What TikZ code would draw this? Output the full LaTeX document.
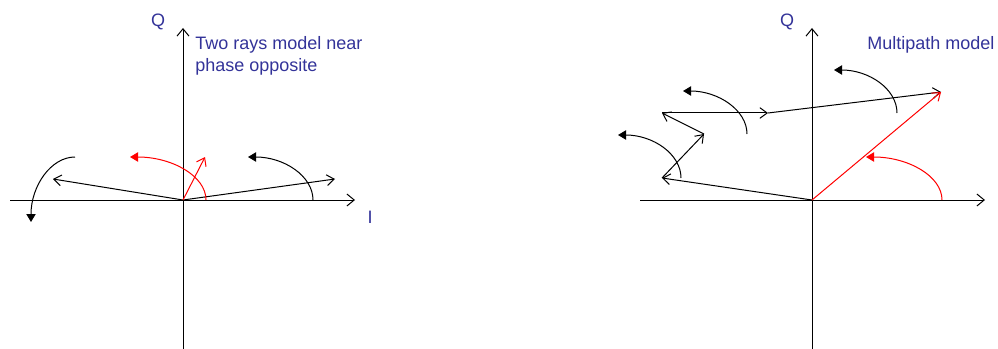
\documentclass[tikz,border=0pt]{standalone}
\usepackage{fontspec}
\setmainfont{Liberation Sans}
\usetikzlibrary{arrows.meta}
\definecolor{labelblue}{RGB}{51,51,153}

\begin{document}
\begin{tikzpicture}[x=0.75pt,y=-0.75pt,
  axis/.style={draw,line width=.75pt,-{Straight Barb[length=5.5pt,width=9pt]}},
  phasor/.style={draw,line width=.75pt,-{Straight Barb[length=5.5pt,width=8pt]}},
  turn/.style={draw,line width=.75pt,-{Triangle[length=6pt,width=7pt]}},
  lbl/.style={text=labelblue,font=\fontsize{13.5}{16}\selectfont,inner sep=0pt}]
  \useasboundingbox (0,0) rectangle (998,349);

  % left panel: two rays
  \coordinate (O1) at (183,200);
  \coordinate (L1) at (53,179);
  \coordinate (R1) at (335,179);
  \coordinate (S1) at (205,157);
  \path[axis] (10,200) -- (355,200);
  \path[axis] (183,349) -- (183,28);
  \node[lbl] (q1) at (158,22) {Q};
  \node[lbl] (i1) at (370,217) {I};
  \node[lbl,anchor=base west] (t1a) at (195,50) {Two rays model near};
  \node[lbl,anchor=base west] (t1b) at (195,72) {phase opposite};
  \path[phasor] (O1) -- (L1);
  \path[phasor] (O1) -- (R1);
  \path[phasor,red] (O1) -- (S1);
  \path[turn] (313,200) .. controls (313,176) and (284,157) .. (248,157);
  \path[turn] (75,157) .. controls (51,157) and (31,186) .. (31,222);
  \path[turn,red] (206,200) .. controls (206,176) and (172,157) .. (130,157);

  % right panel: multipath
  \coordinate (O2) at (812,200);
  \coordinate (P1) at (662,178);
  \coordinate (P2) at (704,134);
  \coordinate (P3) at (662,113);
  \coordinate (P4) at (768,113);
  \coordinate (P5) at (941,92);
  \path[axis] (640,200) -- (985,200);
  \path[axis] (812,349) -- (812,28);
  \node[lbl] (q2) at (787,22) {Q};
  \node[lbl] (i2) at (999,217) {I};
  \node[lbl,anchor=base west] (t2) at (867,50) {Multipath model};
  \path[phasor] (O2) -- (P1);
  \path[phasor] (P1) -- (P2);
  \path[phasor] (P2) -- (P3);
  \path[phasor] (P3) -- (P4);
  \path[phasor] (P4) -- (P5);
  \path[phasor,red] (O2) -- (P5);
  \path[turn] (681,178) .. controls (681,154) and (653,135) .. (618,135);
  \path[turn] (747,134) .. controls (747,110) and (718,91) .. (683,91);
  \path[turn] (897,113) .. controls (897,89) and (869,70) .. (834,70);
  \path[turn,red] (942,200) .. controls (942,176) and (908,157) .. (866,157);
\end{tikzpicture}
\end{document}
